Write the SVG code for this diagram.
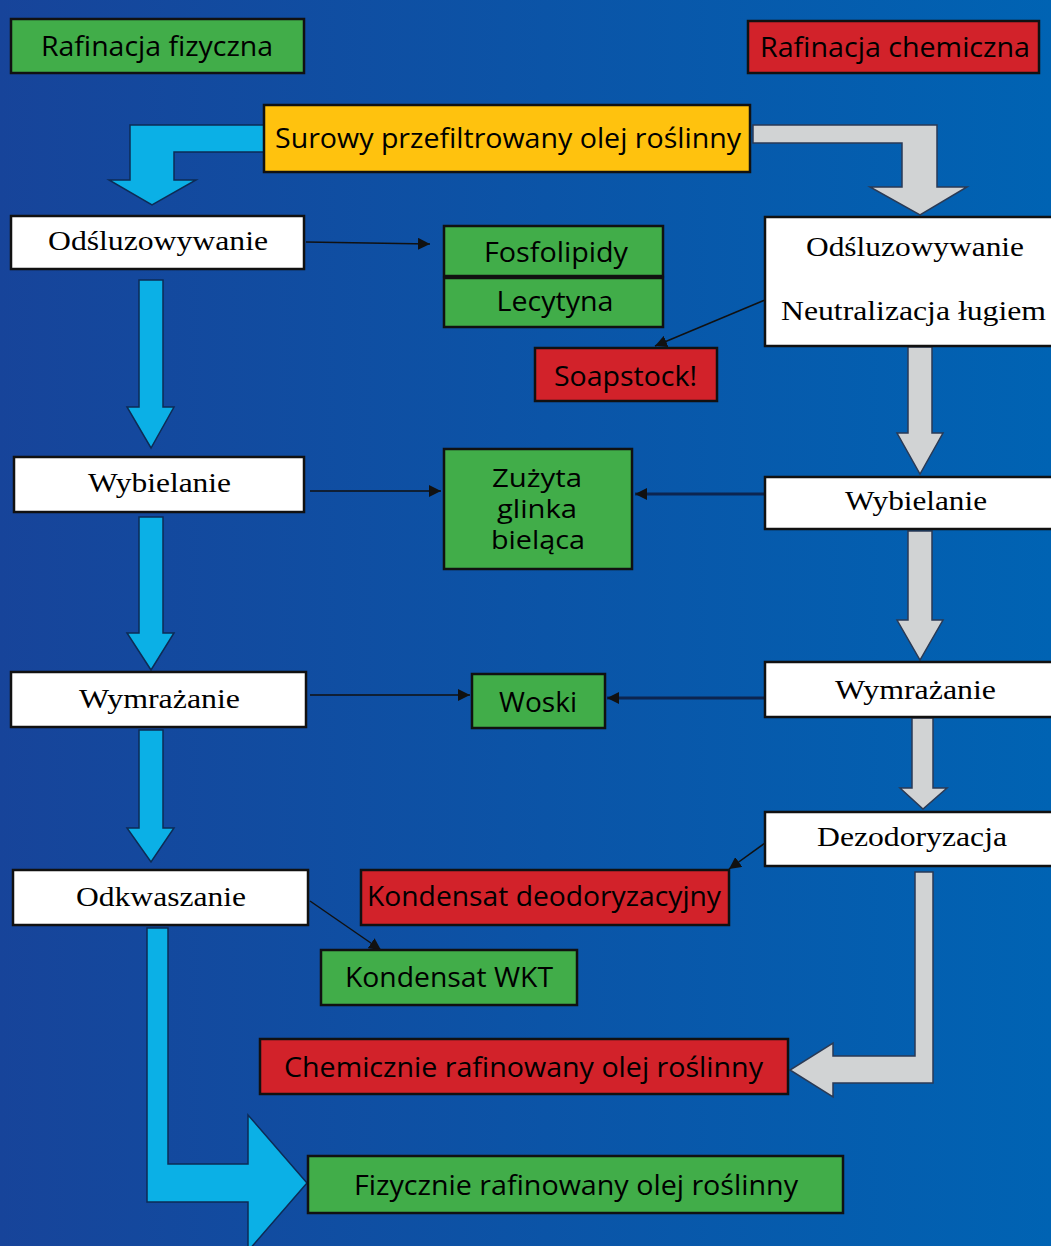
<svg xmlns="http://www.w3.org/2000/svg" width="1051" height="1246" viewBox="0 0 1051 1246">
<defs>
<linearGradient id="bg" x1="0" y1="0" x2="1" y2="0">
<stop offset="0" stop-color="#17449a"/>
<stop offset="1" stop-color="#0063b3"/>
</linearGradient>
<marker id="ah" viewBox="0 0 10 10" refX="10" refY="5" markerWidth="12" markerHeight="12" markerUnits="userSpaceOnUse" orient="auto">
<path d="M0,0 L10,5 L0,10 Z" fill="#111"/>
</marker>
<style>
.box{stroke:#111;stroke-width:2.5}
.g{fill:#41ad49}
.r{fill:#d2222a}
.y{fill:#ffc20e}
.w{fill:#fff}
.s{font-family:"Open Sans","Noto Sans","Liberation Sans",sans-serif;font-size:27px;fill:#000;text-anchor:middle}
.sm{font-size:25px}
.f{font-family:"Liberation Serif","DejaVu Serif",serif;font-size:28px;fill:#000;text-anchor:middle}
.ba{fill:#0bb0e6;stroke:#0d2b55;stroke-width:1.5;stroke-linejoin:miter}
.ga{fill:#d1d3d4;stroke:#2a3a55;stroke-width:1.5;stroke-linejoin:miter}
.thin{fill:none;stroke:#111;stroke-width:1.5}
.thick{fill:none;stroke:#0c2550;stroke-width:3}
</style>
</defs>
<rect x="0" y="0" width="1051" height="1246" fill="url(#bg)"/>

<g id="arrows">
<path class="ba" d="M264,125 L130,125 L130,180 L109,180 L152,205 L196,180 L174,180 L174,152 L264,152 Z"/>
<path class="ga" d="M753,125 L937,125 L937,187 L967,187 L920,215 L870,187 L902,187 L902,143 L753,143 Z"/>
<path class="ba" d="M139,280 L163,280 L163,407 L174,407 L151,448 L127,407 L139,407 Z"/>
<path class="ba" d="M139,517 L163,517 L163,633 L174,633 L151,670 L127,633 L139,633 Z"/>
<path class="ba" d="M139,730 L163,730 L163,828 L174,828 L151,862 L127,828 L139,828 Z"/>
<path class="ba" d="M147,928 L168,928 L168,1164 L248,1164 L248,1115 L307,1183 L248,1251 L248,1202 L147,1202 Z"/>
<path class="ga" d="M908,347 L932,347 L932,433 L943,433 L920,474 L897,433 L908,433 Z"/>
<path class="ga" d="M908,531 L932,531 L932,620 L943,620 L920,660 L897,620 L908,620 Z"/>
<path class="ga" d="M912,718 L933,718 L933,788 L947,788 L923,809 L900,788 L912,788 Z"/>
<path class="ga" d="M933,872 L915,872 L915,1056 L833,1056 L833,1043 L790,1070 L833,1097 L833,1083 L933,1083 Z"/>
</g>

<g id="connectors">
<line class="thin" x1="306" y1="242" x2="430" y2="244" marker-end="url(#ah)"/>
<line class="thin" x1="765" y1="300" x2="655" y2="346" marker-end="url(#ah)"/>
<line class="thin" x1="310" y1="491" x2="441" y2="491" marker-end="url(#ah)"/>
<line class="thick" x1="765" y1="494" x2="635" y2="494" marker-end="url(#ah)"/>
<line class="thin" x1="310" y1="695" x2="470" y2="695" marker-end="url(#ah)"/>
<line class="thick" x1="765" y1="698" x2="607" y2="698" marker-end="url(#ah)"/>
<line class="thin" x1="765" y1="843" x2="729" y2="869" marker-end="url(#ah)"/>
<line class="thin" x1="310" y1="901" x2="381" y2="950" marker-end="url(#ah)"/>
</g>

<g id="n-rafinacja-fizyczna"><rect class="box g" x="11" y="19" width="293" height="54"/><text class="s" x="157" y="56" textLength="232" lengthAdjust="spacingAndGlyphs">Rafinacja fizyczna</text></g>
<g id="n-rafinacja-chemiczna"><rect class="box r" x="748" y="21" width="291" height="52"/><text class="s" x="895" y="57" textLength="270" lengthAdjust="spacingAndGlyphs">Rafinacja chemiczna</text></g>
<g id="n-surowy"><rect class="box y" x="264" y="105" width="486" height="67"/><text class="s" x="508" y="148" textLength="466" lengthAdjust="spacingAndGlyphs">Surowy przefiltrowany olej roślinny</text></g>
<g id="n-odsl-l"><rect class="box w" x="11" y="216" width="293" height="53"/><text class="f" x="158" y="250" textLength="220" lengthAdjust="spacingAndGlyphs">Odśluzowywanie</text></g>
<g id="n-fosfolipidy"><rect class="box g" x="444" y="226" width="219" height="50"/><text class="s" x="556" y="262" textLength="144" lengthAdjust="spacingAndGlyphs">Fosfolipidy</text></g>
<g id="n-lecytyna"><rect class="box g" x="444" y="278" width="219" height="49"/><text class="s" x="555" y="311" textLength="117" lengthAdjust="spacingAndGlyphs">Lecytyna</text></g>
<g id="n-odsl-r"><rect class="box w" x="765" y="217" width="292" height="129"/><text class="f" x="915" y="256" textLength="218" lengthAdjust="spacingAndGlyphs">Odśluzowywanie</text><text class="f" x="913.5" y="320" textLength="265" lengthAdjust="spacingAndGlyphs">Neutralizacja ługiem</text></g>
<g id="n-soapstock"><rect class="box r" x="535" y="348" width="182" height="53"/><text class="s" x="625.5" y="386" textLength="143" lengthAdjust="spacingAndGlyphs">Soapstock!</text></g>
<g id="n-wyb-l"><rect class="box w" x="14" y="457" width="290" height="55"/><text class="f" x="159.5" y="492" textLength="143" lengthAdjust="spacingAndGlyphs">Wybielanie</text></g>
<g id="n-zuzyta"><rect class="box g" x="444" y="449" width="188" height="120"/><text class="s sm" x="537" y="487" textLength="90" lengthAdjust="spacingAndGlyphs">Zużyta</text><text class="s sm" x="537" y="518" textLength="80" lengthAdjust="spacingAndGlyphs">glinka</text><text class="s sm" x="538" y="549" textLength="94" lengthAdjust="spacingAndGlyphs">bieląca</text></g>
<g id="n-wyb-r"><rect class="box w" x="765" y="477" width="292" height="52"/><text class="f" x="916" y="510" textLength="142" lengthAdjust="spacingAndGlyphs">Wybielanie</text></g>
<g id="n-wym-l"><rect class="box w" x="11" y="672" width="295" height="55"/><text class="f" x="159.5" y="708" textLength="161" lengthAdjust="spacingAndGlyphs">Wymrażanie</text></g>
<g id="n-woski"><rect class="box g" x="472" y="674" width="133" height="54"/><text class="s" x="538" y="712" textLength="78" lengthAdjust="spacingAndGlyphs">Woski</text></g>
<g id="n-wym-r"><rect class="box w" x="765" y="662" width="292" height="55"/><text class="f" x="915.5" y="699" textLength="161" lengthAdjust="spacingAndGlyphs">Wymrażanie</text></g>
<g id="n-dezod"><rect class="box w" x="765" y="812" width="292" height="54"/><text class="f" x="912" y="846" textLength="190" lengthAdjust="spacingAndGlyphs">Dezodoryzacja</text></g>
<g id="n-kond-deo"><rect class="box r" x="361" y="870" width="368" height="55"/><text class="s" x="544" y="906" textLength="354" lengthAdjust="spacingAndGlyphs">Kondensat deodoryzacyjny</text></g>
<g id="n-odkw"><rect class="box w" x="13" y="870" width="295" height="55"/><text class="f" x="161" y="906" textLength="170" lengthAdjust="spacingAndGlyphs">Odkwaszanie</text></g>
<g id="n-kond-wkt"><rect class="box g" x="321" y="950" width="256" height="55"/><text class="s" x="449" y="987" textLength="208" lengthAdjust="spacingAndGlyphs">Kondensat WKT</text></g>
<g id="n-chem-olej"><rect class="box r" x="260" y="1039" width="528" height="55"/><text class="s" x="523.5" y="1077" textLength="479" lengthAdjust="spacingAndGlyphs">Chemicznie rafinowany olej roślinny</text></g>
<g id="n-fiz-olej"><rect class="box g" x="308" y="1156" width="535" height="57"/><text class="s" x="576" y="1195" textLength="444" lengthAdjust="spacingAndGlyphs">Fizycznie rafinowany olej roślinny</text></g>
</svg>
